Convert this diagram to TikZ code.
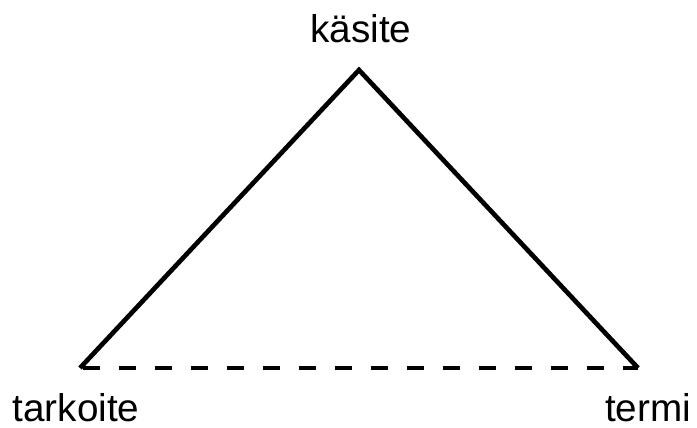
\documentclass[tikz,border=0pt]{standalone}
\usepackage{fontspec}
\setmainfont{Liberation Sans}
\usepackage{tikz}

\begin{document}
\begin{tikzpicture}[x=0.75pt,y=-0.75pt,
    edge/.style={line width=3.5pt},
    label/.style={anchor=base,inner sep=0pt,font=\fontsize{29}{32}\selectfont}]
    \useasboundingbox (0,0) rectangle (697,428);

    % corners of the triangle
    \coordinate (top) at (359,70);
    \coordinate (left) at (80,368);
    \coordinate (right) at (638,368);

    % labels
    \node[label] (kasite) at (361,43) {käsite};
    \node[label] (tarkoite) at (76,421) {tarkoite};
    \node[label] (termi) at (648,421) {termi};

    % sides
    \draw[edge] (left) -- (top) -- (right);
    \draw[edge,dash pattern=on 12.75pt off 14.25pt,dash phase=24.75pt] (left) -- (right);
\end{tikzpicture}
\end{document}
